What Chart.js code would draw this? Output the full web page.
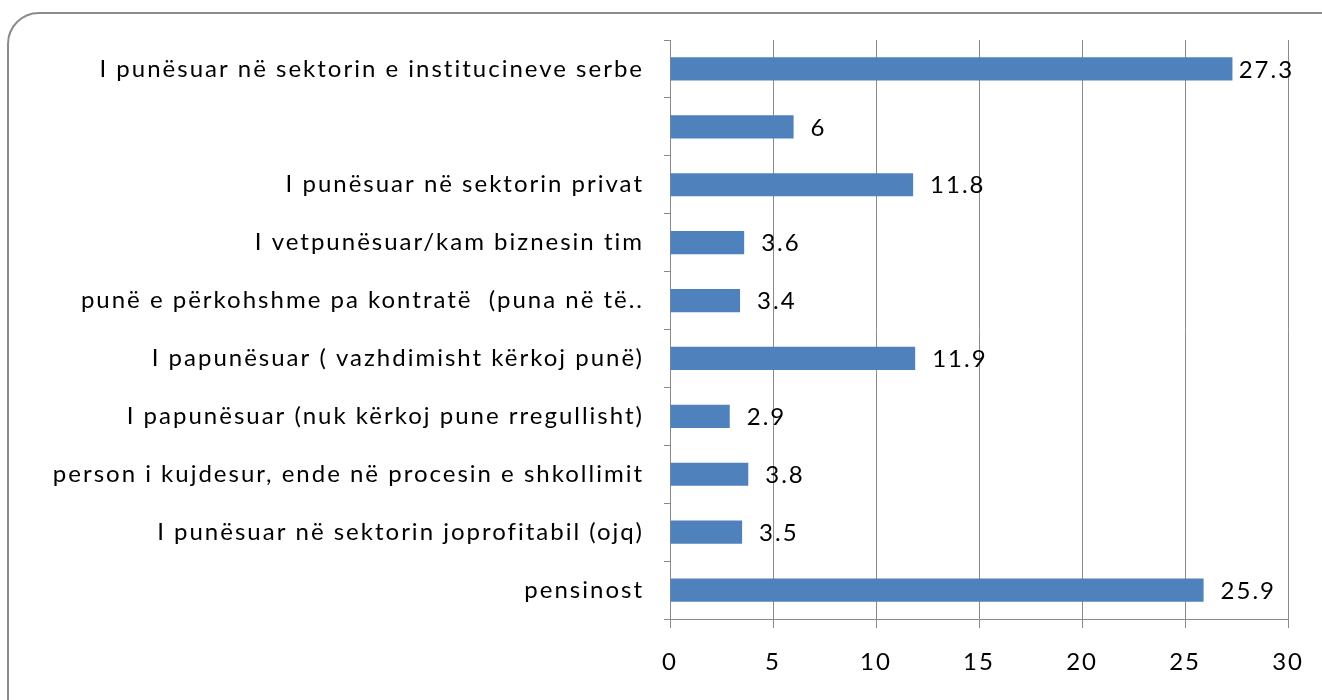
<!DOCTYPE html>
<html>
<head>
<meta charset="utf-8">
<script src="https://cdn.jsdelivr.net/npm/chart.js@4/dist/chart.umd.min.js"></script>
<style>
    html, body { margin: 0; padding: 0; background: #fff; overflow: hidden; }
    #wrap { position: relative; width: 1322px; height: 700px; }
    #frame {
        position: absolute; left: 7px; top: 12px; width: 1360px; height: 740px;
        border: 2.5px solid #8c8c8c; border-radius: 32px; box-sizing: border-box;
    }
    #chart { position: absolute; left: 0; top: 0; }
</style>
</head>
<body>
<div id="wrap">
    <div id="frame"></div>
    <canvas id="chart" width="1322" height="700"></canvas>
</div>
<script>
    var categories = [
        'I punësuar në sektorin e institucineve serbe',
        '',
        'I punësuar në sektorin privat',
        'I vetpunësuar/kam biznesin tim',
        'punë e përkohshme pa kontratë  (puna në të..',
        'I papunësuar ( vazhdimisht kërkoj punë)',
        'I papunësuar (nuk kërkoj pune rregullisht)',
        'person i kujdesur, ende në procesin e shkollimit',
        'I punësuar në sektorin joprofitabil (ojq)',
        'pensinost'
    ];
    var values = [27.3, 6, 11.8, 3.6, 3.4, 11.9, 2.9, 3.8, 3.5, 25.9];
    var tickValues = [0, 5, 10, 15, 20, 25, 30];

    var fontFamily = "'Lato', 'DejaVu Sans', sans-serif";
    var fontSize = 24;
    var gridColor = '#8a8a8a';

    // wider text, closer to the original font
    var spacing = {
        id: 'spacing',
        beforeDraw: function (chart) {
            chart.ctx.letterSpacing = '2px';
        }
    };

    // value labels to the right of each bar, kept inside the plot area
    var valueLabels = {
        id: 'valueLabels',
        afterDatasetsDraw: function (chart) {
            var ctx = chart.ctx;
            var meta = chart.getDatasetMeta(0);
            var area = chart.chartArea;
            ctx.save();
            ctx.font = fontSize + 'px ' + fontFamily;
            ctx.fillStyle = '#000';
            ctx.textAlign = 'left';
            ctx.textBaseline = 'middle';
            meta.data.forEach(function (bar, i) {
                var text = String(values[i]);
                var w = ctx.measureText(text).width;
                var x = Math.min(bar.x + 17, area.right + 6 - w);
                ctx.fillText(text, x, bar.y + 1);
            });
            ctx.restore();
        }
    };

    new Chart(document.getElementById('chart'), {
        type: 'bar',
        data: {
            labels: categories,
            datasets: [{
                data: values,
                backgroundColor: '#4f81bd',
                borderWidth: 0,
                barPercentage: 0.8,
                categoryPercentage: 0.5
            }]
        },
        options: {
            indexAxis: 'y',
            responsive: false,
            animation: false,
            events: [],
            layout: { padding: { top: 40, right: 30, left: 0, bottom: 0 } },
            plugins: { legend: { display: false }, tooltip: { enabled: false } },
            scales: {
                x: {
                    min: 0,
                    max: 30,
                    afterBuildTicks: function (scale) {
                        scale.ticks = tickValues.map(function (v) { return { value: v }; });
                    },
                    afterFit: function (scale) { scale.height = 81; },
                    grid: { color: gridColor, lineWidth: 1, tickLength: 9 },
                    border: { color: gridColor, width: 1 },
                    ticks: { color: '#000', padding: 20, font: { family: fontFamily, size: fontSize } }
                },
                y: {
                    afterFit: function (scale) { scale.width = 670; },
                    grid: { color: gridColor, drawOnChartArea: false, tickLength: 6, offset: true },
                    border: { color: gridColor, width: 1 },
                    ticks: { color: '#000', padding: 20, autoSkip: false, font: { family: fontFamily, size: fontSize } }
                }
            }
        },
        plugins: [spacing, valueLabels]
    });
</script>
</body>
</html>
